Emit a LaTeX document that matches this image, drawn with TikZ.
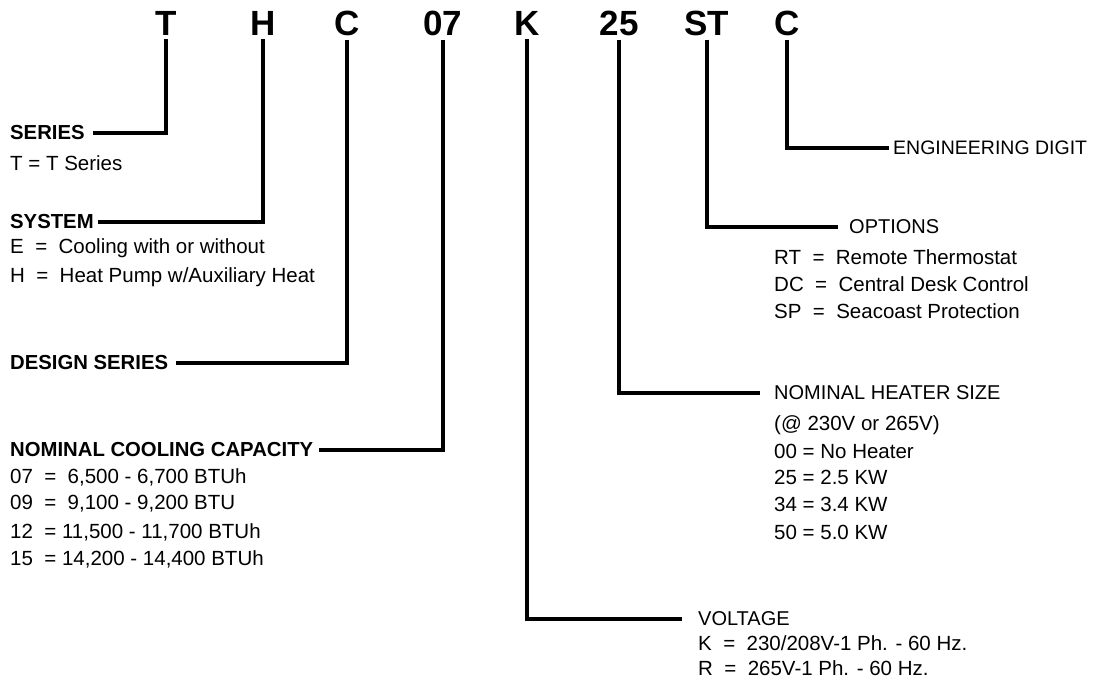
\documentclass[tikz,border=0pt]{standalone}
\usepackage{fontspec}
\setmainfont{Liberation Sans}

\tikzset{
  code/.style={font=\fontsize{35}{40}\selectfont\bfseries, inner sep=4pt},
  headl/.style={font=\fontsize{20.3}{24}\selectfont\bfseries, inner sep=4pt, anchor=west},
  headr/.style={font=\fontsize{20}{24}\selectfont, inner sep=4pt, anchor=west},
  entry/.style={font=\fontsize{20.5}{24}\selectfont, inner sep=0pt, anchor=west},
  lead/.style={line width=4pt}
}

\begin{document}
\begin{tikzpicture}[x=1pt,y=-1pt]
  \useasboundingbox (0,0) rectangle (1098,686);
  % model number
  \node[code] (cT)  at (166,23) {T};
  \node[code] (cH)  at (263,23) {H};
  \node[code] (cC)  at (347,23) {C};
  \node[code] (c07) at (443,23) {07};
  \node[code] (cK)  at (527,23) {K};
  \node[code] (c25) at (619,23) {25};
  \node[code] (cST) at (707,23) {ST};
  \node[code] (cE)  at (787,23) {C};
  % left side
  \node[headl] (series)  at (6,133) {SERIES};
  \node[entry] (seriesA) at (10,163) {T = T Series};
  \node[headl] (system)  at (6,222) {SYSTEM};
  \node[entry] (systemA) at (10,248) {E\ \ =\ \ Cooling with or without};
  \node[entry] (systemB) at (10,277) {H\ \ =\ \ Heat Pump w/Auxiliary Heat};
  \node[headl] (design)  at (6,363) {DESIGN SERIES};
  \node[headl] (cooling) at (6,450) {NOMINAL COOLING CAPACITY};
  \node[entry] (coolA) at (10,477) {07\ \ =\ \ 6,500 - 6,700 BTUh};
  \node[entry] (coolB) at (10,504) {09\ \ =\ \ 9,100 - 9,200 BTU};
  \node[entry] (coolC) at (10,532) {12\ \ = 11,500 - 11,700 BTUh};
  \node[entry] (coolD) at (10,559) {15\ \ = 14,200 - 14,400 BTUh};
  % right side
  \node[headr, font=\fontsize{19.5}{24}\selectfont] (engdigit) at (889,148) {ENGINEERING DIGIT};
  \node[headr] (options)  at (845,227) {OPTIONS};
  \node[entry] (optA) at (774,257) {RT\ \ =\ \ Remote Thermostat};
  \node[entry] (optB) at (774,284) {DC\ \ =\ \ Central Desk Control};
  \node[entry] (optC) at (774,311) {SP\ \ =\ \ Seacoast Protection};
  \node[headr] (heater) at (770,393) {NOMINAL HEATER SIZE};
  \node[entry] (heatA) at (774,425) {(@ 230V or 265V)};
  \node[entry] (heatB) at (774,451) {00 = No Heater};
  \node[entry] (heatC) at (774,477) {25 = 2.5 KW};
  \node[entry] (heatD) at (774,504) {34 = 3.4 KW};
  \node[entry] (heatE) at (774,532) {50 = 5.0 KW};
  \node[headr] (voltage) at (694,619) {VOLTAGE};
  \node[entry] (voltA) at (698,643) {K\ \ =\ \ 230/208V-1 Ph. - 60 Hz.};
  \node[entry] (voltB) at (698,668) {R\ \ =\ \ 265V-1 Ph. - 60 Hz.};
  % leaders
  \draw[lead, shorten >=4pt] (cT.south) |- (series.east);
  \draw[lead] (cH.south)  |- (system.east);
  \draw[lead, shorten >=4pt] (cC.south) |- (design.east);
  \draw[lead, shorten >=2pt] (c07.south) |- (cooling.east);
  \draw[lead, shorten >=12pt] (cK.south) |- (voltage.west);
  \draw[lead, shorten >=10pt] (c25.south) |- (heater.west);
  \draw[lead, shorten >=7pt] (cST.south) |- (options.west);
  \draw[lead] (cE.south)  |- (engdigit.west);
\end{tikzpicture}
\end{document}
